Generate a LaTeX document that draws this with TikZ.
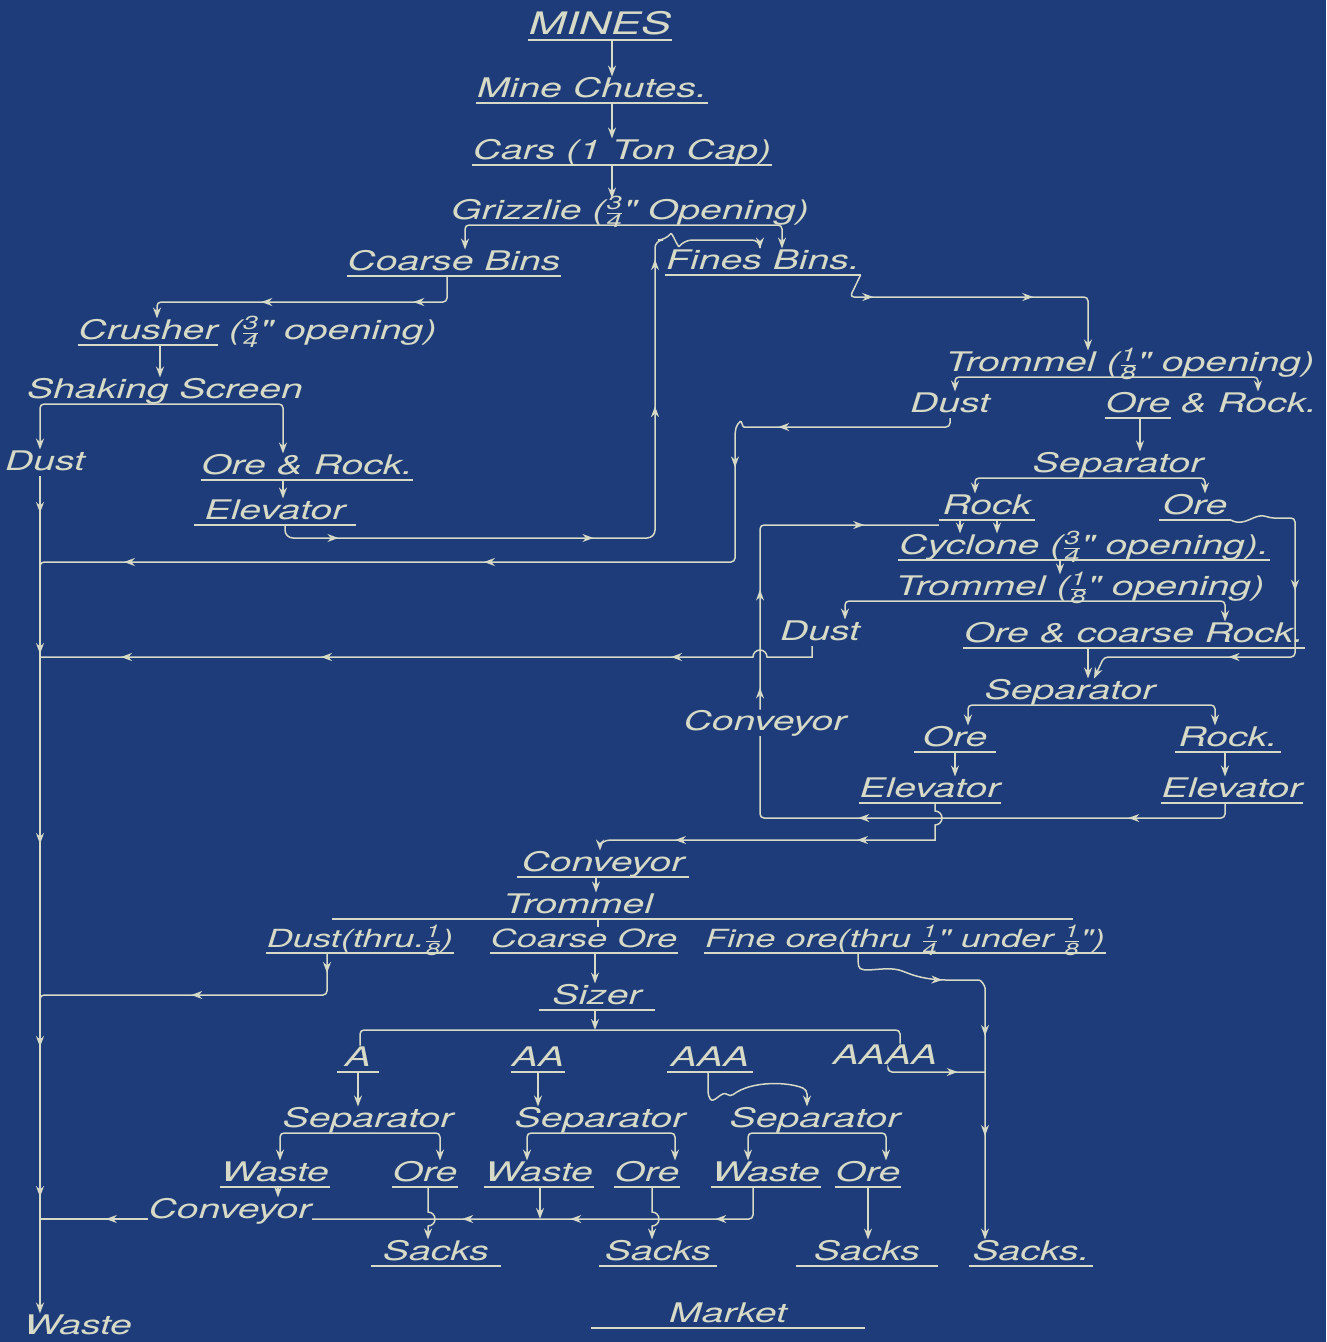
\documentclass[tikz,border=0pt]{standalone}
\usepackage{fontspec}
\usepackage{amsmath}
\usetikzlibrary{arrows.meta, decorations.markings, calc}
\newfontfamily\hand{TeX Gyre Heros}[FakeStretch=1.45]
\definecolor{cblue}{HTML}{1E3C79}
\definecolor{chalk}{HTML}{D6DAC6}
\newcommand{\frc}[2]{\ensuremath{\frac{\text{#1}}{\text{#2}}}}
\tikzset{
  every picture/.style={x=1pt, y=-1pt, line width=1.5pt},
  lab/.style={font=\fontsize{27}{30}\selectfont\hand\itshape, text=chalk, anchor=south,
    inner xsep=0pt, inner ysep=1pt, text height=19pt, text depth=4pt},
  ul/.style={lab, minimum width=#1},
  tight/.style={font=\fontsize{25}{28}\selectfont\hand\itshape},
  wire/.style={draw=chalk, rounded corners=4pt},
  flow/.style={wire, -{Stealth[length=11pt, width=8pt]}},
  midhead/.style={postaction={decorate, decoration={markings,
    mark=at position #1 with {\arrow{Stealth[length=11pt, width=8pt]}}}}},
}

\begin{document}
\begin{tikzpicture}
  \fill[cblue] (0,0) rectangle (1326,1342);
  \useasboundingbox (0,0) rectangle (1326,1342);
  % mines down to the bins
  \node[ul=140, font=\fontsize{31}{34}\selectfont\hand\itshape] (mines) at (600,40) {MINES};
  \node[ul=215] (chutes) at (592,103) {Mine Chutes.};
  \node[ul=259] (cars) at (622,165) {Cars (1 Ton Cap)};
  \node[lab] (grizzly) at (630,225) {Grizzlie (\frc{3}{4}" Opening)};
  \node[ul=207] (coarse) at (454,276) {Coarse Bins};
  \node[ul=173] (fines) at (763,275) {Fines Bins.};
  % coarse side
  \node[ul=133] (crusher) at (148,345) {Crusher};
  \node[lab, anchor=south west] (crushop) at (228,345) {(\frc{3}{4}" opening)};
  \node[lab] (shaking) at (165,404) {Shaking Screen};
  \node[lab] (dustA) at (45,476) {Dust};
  \node[ul=195] (orerock) at (307,480) {Ore \& Rock.};
  \node[ul=160] (elevA) at (275,525) {Elevator};
  % fines side
  \node[lab] (trom1) at (1130,377) {Trommel (\frc{1}{8}" opening)};
  \node[lab] (dustB) at (950,418) {Dust};
  \node[ul=55] (oreB) at (1138,418) {Ore};
  \node[lab, anchor=south west] (rockB) at (1180,418) {\& Rock.};
  \node[lab] (sepA) at (1118,478) {Separator};
  \node[ul=95] (rockA) at (987,520) {Rock};
  \node[ul=70] (oreA) at (1195,520) {Ore};
  \node[ul=368] (cyclone) at (1084,560) {Cyclone (\frc{3}{4}" opening).};
  \node[lab] (trom2) at (1080,601) {Trommel (\frc{1}{8}" opening)};
  \node[lab] (dustC) at (820,646) {Dust};
  \node[ul=332] (orecoarse) at (1134,648) {Ore \& coarse Rock.};
  \node[lab] (convR) at (765,736) {Conveyor};
  \node[lab] (sepB) at (1070,705) {Separator};
  \node[ul=80] (oreC) at (955,752) {Ore};
  \node[ul=105] (rockC) at (1228,752) {Rock.};
  \node[ul=140] (elevC) at (930,803) {Elevator};
  \node[ul=135] (elevD) at (1232,803) {Elevator};
  % final treatment
  \node[ul=170] (convM) at (603,877) {Conveyor};
  \node[lab] (trom3) at (578,919) {Trommel};
  \node[ul=148, tight] (dustD) at (360,953) {Dust(thru.\frc{1}{8})};
  \node[ul=172, tight] (coarseore) at (584,953) {Coarse Ore};
  \node[ul=340, tight] (fineore) at (905,953) {Fine ore(thru \frc{1}{4}" under \frc{1}{8}")};
  \node[ul=115] (sizer) at (597,1010) {Sizer};
  \node[ul=40] (a1) at (358,1072) {A};
  \node[ul=45] (aa) at (538,1072) {AA};
  \node[ul=84] (aaa) at (710,1072) {AAA};
  \node[lab] (aaaa) at (885,1070) {AAAA};
  \node[lab] (sep1) at (368,1133) {Separator};
  \node[lab] (sep2) at (600,1133) {Separator};
  \node[lab] (sep3) at (815,1133) {Separator};
  \node[ul=100] (waste1) at (275,1187) {Waste};
  \node[ul=65] (ore1) at (425,1187) {Ore};
  \node[ul=92] (waste2) at (539,1187) {Waste};
  \node[ul=62] (ore2) at (647,1187) {Ore};
  \node[ul=97] (waste3) at (766,1187) {Waste};
  \node[ul=57] (ore3) at (868,1187) {Ore};
  \node[lab] (convL) at (230,1224) {Conveyor};
  \node[ul=128] (sacks1) at (436,1266) {Sacks};
  \node[ul=117] (sacks2) at (658,1266) {Sacks};
  \node[ul=141] (sacks3) at (867,1266) {Sacks};
  \node[ul=122] (sacks4) at (1031,1266) {Sacks.};
  \node[ul=273] (market) at (728,1328) {Market};
  \node[lab] (wasteZ) at (78,1340) {Waste};
  \coordinate (trunk) at (40,476);
  \coordinate (sizebar) at (595,1030);
  \coordinate (finejoin) at (985,1072);
  % underlines
  \foreach \n in {mines, chutes, cars, coarse, fines, crusher, orerock, elevA, oreB, rockA, oreA,
    cyclone, orecoarse, oreC, rockC, elevC, elevD, convM, dustD, coarseore, fineore, sizer,
    a1, aa, aaa, waste1, ore1, waste2, ore2, waste3, ore3, sacks1, sacks2, sacks3, sacks4, market}
    \draw[wire] (\n.south west) -- (\n.south east);
  % top chain
  \draw[flow] (mines.south -| 612,0) -- (chutes.north -| 612,0);
  \draw[flow] (chutes.south -| 612,0) -- (cars.north -| 612,0);
  \draw[flow] (cars.south -| 612,0) -- (grizzly.north -| 612,0);
  \draw[flow] (grizzly.south) -| (coarse.north -| 465,0);
  \draw[flow] (grizzly.south) -| (fines.north -| 782,0);
  % coarse bins to elevator and back to the fines bins
  \draw[flow, midhead=58pt, midhead=210pt] (coarse.south -| 447,0) -- (447,302) -- (157,302) -- (crusher.north -| 157,0);
  \draw[flow] (crusher.south -| 160,0) -- (shaking.north -| 160,0);
  \draw[flow] (shaking.south) -| (dustA.north -| 40,0);
  \draw[flow] (shaking.south) -| (orerock.north -| 283,0);
  \draw[flow] (orerock.south -| 283,0) -- (elevA.north -| 283,0);
  \draw[flow, rounded corners=8pt, midhead=63pt, midhead=318pt, midhead=508pt, midhead=655pt]
    (elevA.south -| 285,0) -- (285,538) -- (655,538) -- (655,240) -- (666,240)
    .. controls (672,232) and (678,248) .. (684,240) -- (760,240) -- (fines.north -| 760,0);
  % waste trunk
  \draw[flow, midhead=37pt, midhead=178pt, midhead=368pt, midhead=571pt, midhead=721pt]
    (trunk) -- (wasteZ.north -| trunk);
  % fines bins to first trommel
  \draw[flow, midhead=45pt, midhead=205pt] (fines.south east) -- (850,297) -- (1088,297) -- (trom1.north -| 1088,0);
  \draw[flow] (trom1.south) -| (dustB.north -| 955,0);
  \draw[flow] (trom1.south) -| (rockB.north -| 1258,0);
  \draw[wire, midhead=179pt, midhead=268pt, midhead=612pt, midhead=972pt]
    (dustB.south -| 950,0) -- (950,427) -- (748,427) .. controls (742,427) and (742,420) .. (737,424)
    -- (735,432) -- (735,562) -- (trunk |- 0,562) -- (trunk |- 0,574);
  \draw[flow] (oreB.south -| 1140,0) -- (sepA.north -| 1140,0);
  \draw[flow] (sepA.south) -| (rockA.north -| 975,0);
  \draw[flow] (sepA.south) -| (oreA.north -| 1205,0);
  \foreach \x in {960, 997}
    \draw[flow] (rockA.south -| \x,0) -- (cyclone.north -| \x,0);
  \draw[flow, midhead=137pt, midhead=268pt] (oreA.south east) .. controls (1245,528) and (1255,512) .. (1270,518)
    -- (1295,518) -- (1295,657) -- (1104,657) -- (sepB.north -| 1094,0);
  \draw[flow] (cyclone.south -| 1060,0) -- (trom2.north -| 1060,0);
  \draw[flow] (trom2.south) -| (dustC.north -| 845,0);
  \draw[flow] (trom2.south) -| (orecoarse.north -| 1225,0);
  \draw[wire, sharp corners, midhead=160pt, midhead=510pt, midhead=710pt]
    (dustC.south -| 812,0) -- (812,657) -- (767,657) arc[start angle=0, end angle=180, radius=7pt]
    -- (trunk |- 0,657) -- (trunk |- 0,669);
  \draw[flow] (orecoarse.south -| 1088,0) -- (sepB.north -| 1088,0);
  \draw[flow] (sepB.south) -| (oreC.north -| 968,0);
  \draw[flow] (sepB.south) -| (rockC.north -| 1215,0);
  \draw[flow] (oreC.south -| 955,0) -- (elevC.north -| 955,0);
  \draw[flow] (rockC.south -| 1225,0) -- (elevD.north -| 1225,0);
  % conveyor loop back to the rock
  \draw[wire, midhead=110pt, midhead=380pt] (elevD.south -| 1225,0) -- (1225,818) -- (760,818) -- (convR.south -| 760,0);
  \draw[wire, midhead=22pt, midhead=120pt, midhead=287pt] (convR.north -| 760,0) -- (760,525) -- (rockA.south west |- 0,525);
  \draw[flow, sharp corners, midhead=123pt, midhead=305pt]
    (elevC.south -| 935,0) -- (935,811) arc[start angle=90, end angle=-90, radius=7pt]
    -- (935,840) -- (610,840) to[out=180, in=90] (convM.north -| 600,0);
  % last trommel and sizer
  \draw[flow] (convM.south -| 596,0) -- (trom3.north -| 596,0);
  \draw[wire] (trom3.south -| 332,0) -- (trom3.south -| 1073,0);
  \draw[wire] (trom3.south -| 598,0) -- (coarseore.north -| 598,0);
  \draw[wire, midhead=20pt, midhead=176pt] (dustD.south -| 327,0) -- (327,995) -- (trunk |- 0,995) -- (trunk |- 0,1007);
  \draw[flow] (coarseore.south -| 595,0) -- (sizer.north -| 595,0);
  \draw[flow] (sizer.south -| 595,0) -- (sizebar);
  \draw[wire] (a1.north -| 360,0) -- (360,1030) -- (900,1030) -- (aaaa.north -| 900,0);
  \draw[wire, midhead=74pt] (aaaa.south -| 888,0) |- (finejoin);
  \draw[flow, midhead=100pt, midhead=195pt, midhead=295pt]
    (fineore.south -| 858,0) -- (858,962) .. controls (860,975) and (885,965) .. (905,972)
    .. controls (920,978) and (935,980) .. (950,980) -- (975,980) to[out=0, in=90] (985,992)
    -- (sacks4.north -| 985,0);
  % sized products
  \draw[flow] (a1.south) -- (sep1.north -| a1.south);
  \draw[flow] (aa.south) -- (sep2.north -| aa.south);
  \draw[flow] (aaa.south -| 708,0) -- (708,1096) .. controls (714,1104) and (722,1090) .. (730,1097)
    .. controls (752,1080) and (790,1082) .. (807,1090) -- (sep3.north -| 807,0);
  \foreach \sa/\wa/\oa/\wx/\ox in {sep1/waste1/ore1/280/440, sep2/waste2/ore2/527/675, sep3/waste3/ore3/748/886} {
    \draw[flow] (\sa.south) -| (\wa.north -| \wx,0);
    \draw[flow] (\sa.south) -| (\oa.north -| \ox,0);
  }
  \draw[flow] (waste1.south -| 278,0) -- (convL.north -| 278,0);
  \draw[wire, midhead=68pt, midhead=213pt, midhead=321pt] (waste3.south -| 753,0) -- (753,1219) -- (convL.east |- 0,1219);
  \draw[wire, midhead=42pt] (convL.west |- 0,1219) -- (trunk |- 0,1219);
  \draw[flow] (waste2.south -| 540,0) -- (540,1219);
  \foreach \oa/\sk/\x in {ore1/sacks1/428, ore2/sacks2/652}
    \draw[flow, sharp corners] (\oa.south -| \x,0) -- (\x,1212) arc[start angle=90, end angle=-90, radius=7pt]
      -- (\sk.north -| \x,0);
  \draw[flow] (ore3.south -| 868,0) -- (sacks3.north -| 868,0);
\end{tikzpicture}
\end{document}
